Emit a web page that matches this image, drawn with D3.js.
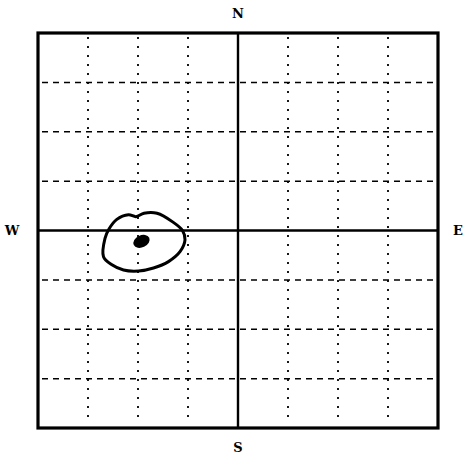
<!DOCTYPE html>
<html>
<head>
<meta charset="utf-8">
<script src="https://cdn.jsdelivr.net/npm/d3@7"></script>
<style>
    html, body { margin: 0; padding: 0; background: #fff; }
    text { font-family: "DejaVu Serif", serif; font-weight: bold; fill: #000; }
</style>
</head>
<body>
<svg id="chart" width="463" height="456"></svg>
<script>
// Grid divisions (compass units), both axes
const gridTicks = [-3, -2, -1, 1, 2, 3];
const extent    = [-4, 4];

// Cardinal points
const directions = ["N", "E", "S", "W"];

// Closed outline round the centre (compass units, x east / y north)
const outlineX = [-2.69, -2.66, -2.58, -2.43, -2.19, -2.04, -1.88, -1.62, -1.30, -1.11, -1.06, -1.16, -1.39, -1.69, -1.99, -2.29, -2.53];
const outlineY = [-0.53, -0.16,  0.03,  0.22,  0.32,  0.28,  0.35,  0.35,  0.17,  0.00, -0.19, -0.43, -0.63, -0.76, -0.82, -0.80, -0.69];

// Mean position
const centreX = [-1.93];
const centreY = [-0.22];

const svg = d3.select("#chart");

const x = d3.scaleLinear().domain(extent).range([38, 438]);
const y = d3.scaleLinear().domain(extent).range([428, 33]);

// Vertical grid lines: dotted
svg.append("g")
    .attr("class", "grid-v")
    .selectAll("line")
    .data(gridTicks)
    .join("line")
    .attr("x1", d => x(d))
    .attr("x2", d => x(d))
    .attr("y1", y(extent[1]) + 4)
    .attr("y2", y(extent[0]) - 4)
    .attr("stroke", "#000")
    .attr("stroke-width", 1.8)
    .attr("stroke-dasharray", "2,7");

// Horizontal grid lines: dashed
svg.append("g")
    .attr("class", "grid-h")
    .selectAll("line")
    .data(gridTicks)
    .join("line")
    .attr("x1", x(extent[0]) + 4)
    .attr("x2", x(extent[1]) - 4)
    .attr("y1", d => y(d))
    .attr("y2", d => y(d))
    .attr("stroke", "#000")
    .attr("stroke-width", 1.5)
    .attr("stroke-dasharray", "6,5");

// Main axes through the centre
svg.append("line")
    .attr("x1", x(0)).attr("x2", x(0))
    .attr("y1", y(extent[1])).attr("y2", y(extent[0]))
    .attr("stroke", "#000").attr("stroke-width", 2.4);

svg.append("line")
    .attr("x1", x(extent[0])).attr("x2", x(extent[1]))
    .attr("y1", y(0)).attr("y2", y(0))
    .attr("stroke", "#000").attr("stroke-width", 2.6);

// Frame
svg.append("rect")
    .attr("x", x(extent[0]))
    .attr("y", y(extent[1]))
    .attr("width", x(extent[1]) - x(extent[0]))
    .attr("height", y(extent[0]) - y(extent[1]))
    .attr("fill", "none")
    .attr("stroke", "#000")
    .attr("stroke-width", 3.2);

// Outline
const outline = outlineX.map((v, i) => [v, outlineY[i]]);

svg.append("path")
    .datum(outline)
    .attr("d", d3.line()
        .x(d => x(d[0]))
        .y(d => y(d[1]))
        .curve(d3.curveCatmullRomClosed.alpha(0.5)))
    .attr("fill", "none")
    .attr("stroke", "#000")
    .attr("stroke-width", 3);

// Centre blob
svg.append("g")
    .selectAll("ellipse")
    .data(centreX.map((v, i) => [v, centreY[i]]))
    .join("ellipse")
    .attr("transform", d => `translate(${x(d[0])},${y(d[1])}) rotate(-25)`)
    .attr("rx", 8.5)
    .attr("ry", 6)
    .attr("fill", "#000");

// Direction labels
const labelPos = {
    N: [x(0), y(extent[1]) - 20],
    S: [x(0), y(extent[0]) + 19],
    W: [x(extent[0]) - 26, y(0)],
    E: [x(extent[1]) + 20, y(0)]
};

svg.append("g")
    .selectAll("text")
    .data(directions)
    .join("text")
    .attr("x", d => labelPos[d][0])
    .attr("y", d => labelPos[d][1])
    .attr("text-anchor", "middle")
    .attr("dominant-baseline", "central")
    .attr("font-size", 13)
    .text(d => d);
</script>
</body>
</html>
